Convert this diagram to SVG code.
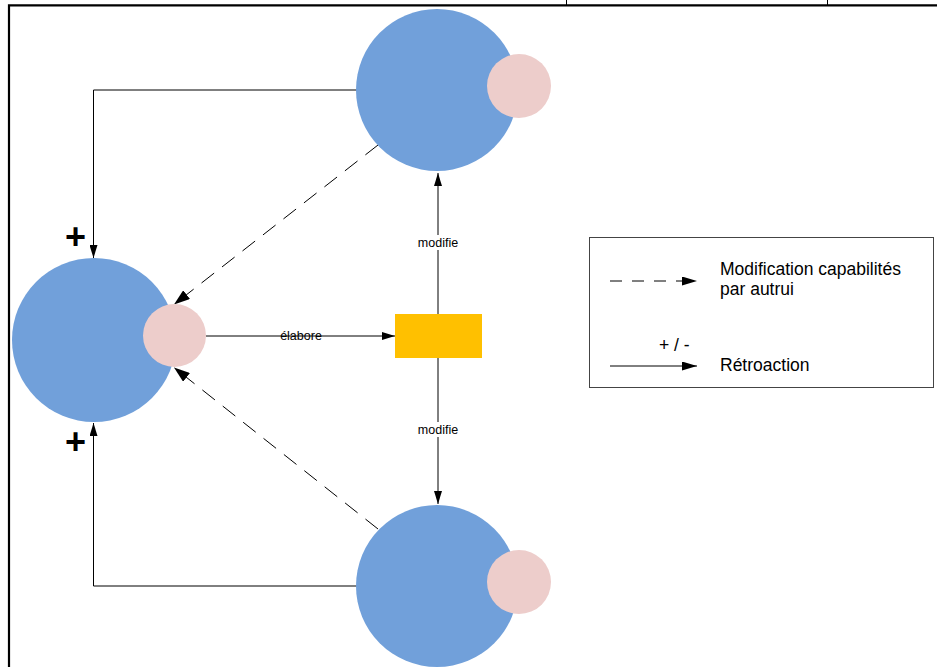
<svg xmlns="http://www.w3.org/2000/svg" width="937" height="667" viewBox="0 0 937 667">
<style>
.big{fill:#71A0DA}
.small{fill:#EDCDCB}
.ln{stroke:#000;stroke-width:1;fill:none}
.dash{stroke:#000;stroke-width:1;fill:none;stroke-dasharray:16 10}
.lbl{font-family:"Liberation Sans",Arial,sans-serif;font-size:12.5px;fill:#000}
.leg{font-family:"Liberation Sans",Arial,sans-serif;font-size:17.5px;fill:#000}
.plus{font-family:"Liberation Sans",Arial,sans-serif;font-size:36px;font-weight:bold;fill:#000}
</style>
<defs>
<marker id="a" markerUnits="userSpaceOnUse" markerWidth="13" markerHeight="8" refX="13" refY="4" orient="auto"><path d="M0,0 L13,4 L0,8 z" fill="#000"/></marker>
<marker id="ad" markerUnits="userSpaceOnUse" markerWidth="16" markerHeight="11" refX="16" refY="5.5" orient="auto"><path d="M0,0 L16,5.5 L0,11 z" fill="#000"/></marker>
<marker id="al" markerUnits="userSpaceOnUse" markerWidth="15" markerHeight="9" refX="15" refY="4.5" orient="auto"><path d="M0,0 L15,4.5 L0,9 z" fill="#000"/></marker>
</defs>
<rect width="937" height="667" fill="#fff"/>
<g id="frame" stroke="#000" fill="none">
<path d="M9,667 V5.3 H937" stroke-width="2.2"/>
<path d="M566.5,0 V5 M827.5,0 V5" stroke-width="1"/>
</g>
<g id="connectors">
<path class="ln" d="M357,90 H93.5 V258" marker-end="url(#a)"/>
<path class="ln" d="M357,586 H93.5 V423" marker-end="url(#a)"/>
<path class="ln" d="M438,314 V173" marker-end="url(#a)"/>
<path class="ln" d="M438,358 V504" marker-end="url(#a)"/>
<path class="ln" stroke="#333" d="M206,336 H395" marker-end="url(#a)"/>
<path class="dash" d="M378,145 L174,304.5" marker-end="url(#ad)"/>
<path class="dash" d="M378,529 L174,367.5" marker-end="url(#ad)"/>
<rect x="416" y="235" width="44" height="15" fill="#fff"/>
<rect x="416" y="422" width="44" height="15" fill="#fff"/>
<text class="lbl" x="438" y="247" text-anchor="middle">modifie</text>
<text class="lbl" x="438" y="434" text-anchor="middle">modifie</text>
<text class="lbl" x="301" y="340" text-anchor="middle">élabore</text>
<text class="plus" x="75.5" y="249" text-anchor="middle">+</text>
<text class="plus" x="75.5" y="454" text-anchor="middle">+</text>
</g>
<g id="node-top">
<circle class="big" cx="437" cy="90" r="81"/>
<circle class="small" cx="519" cy="86" r="32"/>
</g>
<g id="node-bottom">
<circle class="big" cx="437" cy="586" r="81"/>
<circle class="small" cx="519" cy="582" r="32"/>
</g>
<g id="node-left">
<circle class="big" cx="94" cy="340" r="82"/>
<circle class="small" cx="174.5" cy="335.5" r="31.5"/>
</g>
<g id="node-rect">
<rect x="395" y="314" width="87" height="44" fill="#FFC000"/>
</g>
<g id="legend">
<rect x="589.5" y="237.5" width="344" height="150" fill="#fff" stroke="#444" stroke-width="1"/>
<path class="ln" d="M610,281 H697" stroke-dasharray="12 10" marker-end="url(#al)"/>
<path class="ln" d="M610,366 H697" marker-end="url(#al)"/>
<text class="leg" x="720" y="275">Modification capabilités</text>
<text class="leg" x="720" y="295">par autrui</text>
<text class="leg" x="659" y="351">+ / -</text>
<text class="leg" x="720" y="371">Rétroaction</text>
</g>
</svg>
